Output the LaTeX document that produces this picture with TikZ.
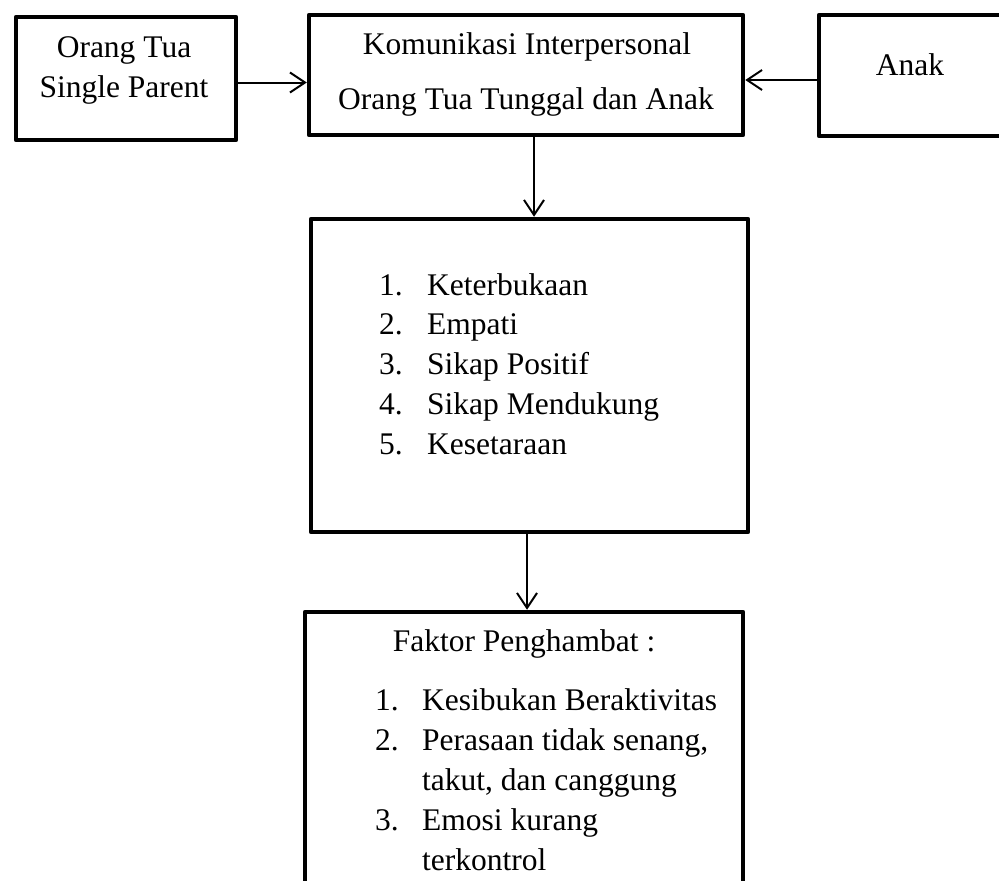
\documentclass[tikz,border=0pt]{standalone}
\usepackage{fontspec}
\setmainfont{Liberation Serif}
\usetikzlibrary{arrows.meta}
\begin{document}
\begin{tikzpicture}[x=1pt,y=-1pt,
  font=\fontsize{31.5pt}{40pt}\selectfont,
  kotak/.style={draw,rectangle,line width=4.5pt,inner sep=0pt,line join=round},
  teks/.style={inner sep=0pt,anchor=base},
  panah/.style={line width=2pt,-{Straight Barb[length=15pt,width=20pt,line width=2pt]}}]
\useasboundingbox (0,0) rectangle (999,881);
\clip (0,0) rectangle (999,881);
\node[kotak,minimum width=220,minimum height=123] (ortu) at (126,78.5) {};
\node[kotak,minimum width=434,minimum height=120] (komunikasi) at (526,75) {};
\node[kotak,minimum width=220,minimum height=121] (anak) at (929,75.5) {};
\node[kotak,minimum width=437,minimum height=313] (aspek) at (529.5,375.5) {};
\node[kotak,minimum width=438,minimum height=320] (faktor) at (524,772) {};
\node[teks] (ortu1) at (124,57) {Orang Tua};
\node[teks] (ortu2) at (124,97) {Single Parent};
\node[teks] (kom1) at (527,54) {Komunikasi Interpersonal};
\node[teks] (kom2) at (526,109) {Orang Tua Tunggal dan Anak};
\node[teks] (anak1) at (910,75) {Anak};
\foreach \no/\isi in {1/Keterbukaan,2/Empati,3/Sikap Positif,4/Sikap Mendukung,5/Kesetaraan}
  { \node[teks,anchor=base west] (no\no) at (379,295+39.8*\no-39.8) {\no.};
    \node[teks,anchor=base west] (isi\no) at (427,295+39.8*\no-39.8) {\isi}; }
\node[teks] (judul) at (524,651) {Faktor Penghambat :};
\foreach \no/\baris in {1/0,2/1,3/3}
  \node[teks,anchor=base west] (fno\no) at (375,710+40*\baris) {\no.};
\foreach \baris/\isi in {0/Kesibukan Beraktivitas,1/{Perasaan tidak senang,},2/{takut, dan canggung},3/Emosi kurang,4/terkontrol}
  \node[teks,anchor=base west] (fisi\baris) at (422,710+40*\baris) {\isi};
\draw[panah] ([yshift=-4]ortu.east) -- ([yshift=-4]ortu.east -| komunikasi.west);
\draw[panah] ([yshift=-4.5]anak.west) -- ([yshift=-4.5]anak.west -| komunikasi.east);
\draw[panah] ([xshift=8]komunikasi.south) -- ([xshift=8]komunikasi.south |- aspek.north);
\draw[panah] ([xshift=-2.5]aspek.south) -- ([xshift=-2.5]aspek.south |- faktor.north);
\end{tikzpicture}
\end{document}
